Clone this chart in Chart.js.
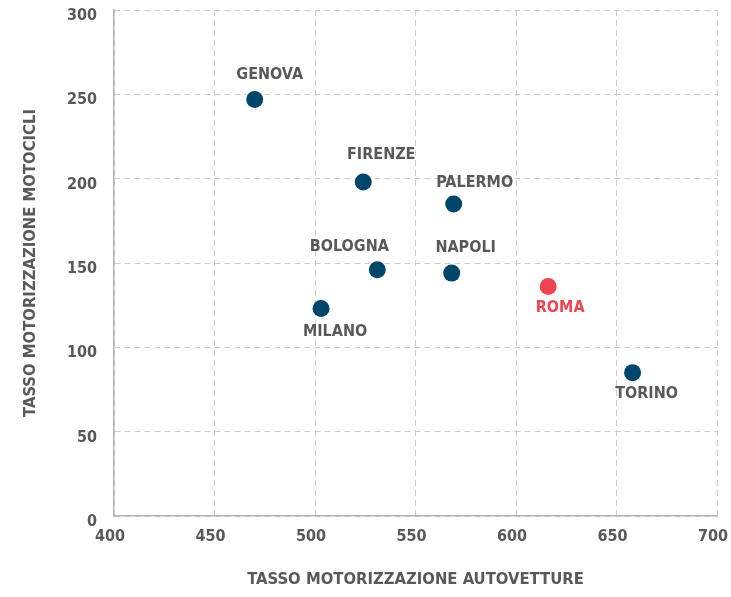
<!DOCTYPE html>
<html>
<head>
<meta charset="utf-8">
<script src="https://cdn.jsdelivr.net/npm/chart.js@4.4.0/dist/chart.umd.min.js"></script>
<style>
  html, body { margin: 0; padding: 0; background: #fff; }
  #wrap { width: 731px; height: 597px; }
</style>
</head>
<body>
<div id="wrap"><canvas id="myChart"></canvas></div>
<script>
// dati: tasso motorizzazione per città
const cities = ['GENOVA', 'FIRENZE', 'PALERMO', 'BOLOGNA', 'NAPOLI', 'MILANO', 'ROMA', 'TORINO'];
const autovetture = [470, 524, 569, 531, 568, 503, 616, 658];
const motocicli = [247, 198, 185, 146, 144, 123, 136, 85];
const xTicks = [400, 450, 500, 550, 600, 650, 700];
const yTicks = [0, 50, 100, 150, 200, 250, 300];

// dove mettere le etichette (dx, dy in pixel rispetto al punto)
const labelOffsets = [[15, -25], [18, -27], [21, -21], [-28, -23], [14, -25], [14, 23], [12, 21], [14, 21]];

const blue = '#00466b';
const red = '#ee4351';
const grey = '#58595b';
const fontFamily = "'Liberation Sans Narrow', 'DejaVu Sans Condensed', sans-serif";

const pointColors = cities.map(function (c) {
  return c === 'ROMA' ? red : blue;
});

//plugin per le etichette delle città
const cityLabels = {
  id: 'cityLabels',
  afterDatasetsDraw: function (chart) {
    const ctx = chart.ctx;
    const meta = chart.getDatasetMeta(0);
    ctx.save();
    ctx.font = 'bold 16px ' + fontFamily;
    ctx.textAlign = 'center';
    ctx.textBaseline = 'middle';
    meta.data.forEach(function (pt, i) {
      ctx.fillStyle = cities[i] === 'ROMA' ? red : grey;
      ctx.fillText(cities[i], pt.x + labelOffsets[i][0], pt.y + labelOffsets[i][1]);
    });
    ctx.restore();
  }
};

const data = cities.map(function (c, i) {
  return { x: autovetture[i], y: motocicli[i] };
});

new Chart(document.getElementById('myChart').getContext('2d'), {
  type: 'scatter',
  data: {
    datasets: [{
      data: data,
      pointRadius: 8.5,
      pointHoverRadius: 8.5,
      pointBackgroundColor: pointColors,
      pointBorderWidth: 0
    }]
  },
  options: {
    responsive: true,
    maintainAspectRatio: false,
    animation: false,
    layout: { padding: { top: 10, right: 14, bottom: 0, left: 0 } },
    plugins: {
      legend: { display: false },
      tooltip: { enabled: false }
    },
    scales: {
      x: {
        type: 'linear',
        min: 400,
        max: 700,
        afterBuildTicks: function (scale) {
          scale.ticks = xTicks.map(function (v) { return { value: v }; });
        },
        afterFit: function (scale) {
          scale.height = 81;
          scale.paddingLeft = 0;
          scale.paddingRight = 0;
        },
        grid: { color: '#cccccc', lineWidth: 1, drawTicks: false },
        border: { display: true, color: '#b5b5b5', width: 1.5, dash: [6, 4] },
        ticks: { color: grey, padding: 11, labelOffset: -4, font: { family: fontFamily, size: 16, weight: 'bold' } },
        title: {
          display: true,
          text: 'TASSO MOTORIZZAZIONE AUTOVETTURE',
          color: grey,
          padding: { top: 0, bottom: 7 },
          font: { family: fontFamily, size: 16.5, weight: 'bold' }
        }
      },
      y: {
        type: 'linear',
        min: 0,
        max: 300,
        afterBuildTicks: function (scale) {
          scale.ticks = yTicks.map(function (v) { return { value: v }; });
        },
        afterFit: function (scale) {
          scale.width = 114;
          scale.paddingTop = 0;
          scale.paddingBottom = 0;
        },
        grid: { color: '#cccccc', lineWidth: 1, drawTicks: false },
        border: { display: true, color: '#b5b5b5', width: 1.5, dash: [6, 4] },
        ticks: { color: grey, padding: 17, labelOffset: 6, font: { family: fontFamily, size: 16, weight: 'bold' } },
        title: {
          display: true,
          text: 'TASSO MOTORIZZAZIONE MOTOCICLI',
          color: grey,
          padding: { top: 21, bottom: 0 },
          font: { family: fontFamily, size: 16.5, weight: 'bold' }
        }
      }
    }
  },
  plugins: [cityLabels]
});
</script>
</body>
</html>
